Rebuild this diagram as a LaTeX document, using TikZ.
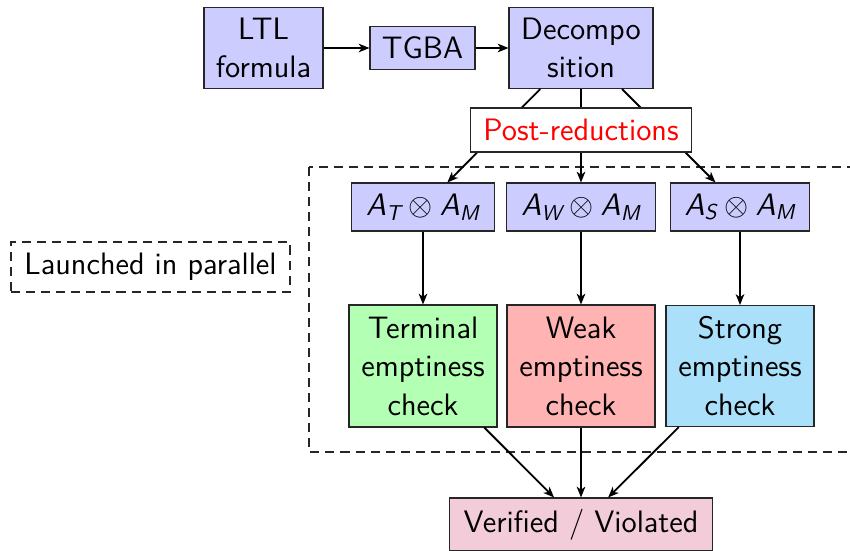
\documentclass[tikz,border=0pt]{standalone}
\usepackage{fontspec}
\usepackage{amsmath}
\usetikzlibrary{arrows.meta}
\definecolor{boxblue}{RGB}{204,204,255}
\definecolor{termgreen}{RGB}{179,255,179}
\definecolor{weakred}{RGB}{255,179,179}
\definecolor{strongblue}{RGB}{170,224,250}
\definecolor{verpink}{RGB}{242,204,217}
\newcommand{\Aop}[1]{\textsf{\itshape A}_{\textsf{\itshape #1}}}
\begin{document}
\begin{tikzpicture}[x=0.4645pt,y=-0.4645pt,
  font=\sffamily\fontsize{14.4}{17.9}\selectfont,
  box/.style={draw=black!85, line width=0.5pt, inner sep=0pt, align=center},
  wh/.style 2 args={minimum width=#1*0.4645pt, minimum height=#2*0.4645pt},
  conn/.style={-{Stealth[length=5pt,width=4pt,inset=1.4pt]}, line width=0.85pt},
  region/.style={draw=black!85, line width=0.5pt, dash pattern=on 4.2pt off 2.8pt}]
\useasboundingbox (0,0) rectangle (850,550);
\clip (0,0) rectangle (850,550);
% parallel region
\draw[region] (309,167) rectangle (870,452);
\node[box, region, wh={279}{50}] (launch) at (150.5,267) {Launched in parallel};
% top row
\node[box, fill=boxblue, wh={119}{81}] (ltl) at (263.5,48) {LTL\\formula};
\node[box, fill=boxblue, wh={105}{43}] (tgba) at (422.5,48) {TGBA};
\node[box, fill=boxblue, wh={144}{81}] (dec) at (581,48) {Decompo\\sition};
% products
\node[box, fill=boxblue, wh={143}{48}] (at) at (423,207) {$\Aop{T}\otimes\Aop{M}$};
\node[box, fill=boxblue, wh={149}{48}] (aw) at (581,207) {$\Aop{W}\otimes\Aop{M}$};
\node[box, fill=boxblue, wh={139}{48}] (as) at (740,207) {$\Aop{S}\otimes\Aop{M}$};
% checks
\node[box, fill=termgreen, wh={148}{122}] (term) at (423,366) {Terminal\\emptiness\\check};
\node[box, fill=weakred, wh={148}{122}] (weak) at (581,366) {Weak\\emptiness\\check};
\node[box, fill=strongblue, wh={148}{121}] (strong) at (740,366) {Strong\\emptiness\\check};
% result
\node[box, fill=verpink, wh={263}{53}] (ver) at (581,524.5) {Verified / Violated};
% connectors
\draw[conn] (ltl) -- (tgba);
\draw[conn] (tgba) -- (dec);
\draw[conn] (dec) -- (at);
\draw[conn] (dec) -- (aw);
\draw[conn] (dec) -- (as);
\draw[conn] (at) -- (term);
\draw[conn] (aw) -- (weak);
\draw[conn] (as) -- (strong);
\draw[conn] (term) -- (ver);
\draw[conn] (weak) -- (ver);
\draw[conn] (strong) -- (ver);
% post-reductions on top
\node[box, fill=white, text=red, wh={221}{44}] (post) at (581,130) {Post-reductions};
\end{tikzpicture}
\end{document}
